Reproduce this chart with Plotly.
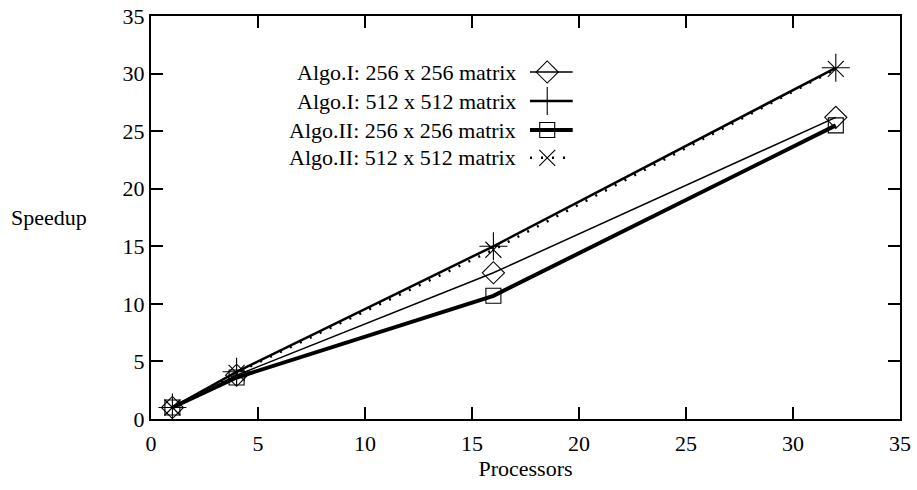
import plotly.graph_objects as go

processors = [1, 4, 16, 32]
algo1_256 = [1.0, 3.8, 12.7, 26.2]
algo1_512 = [1.0, 4.1, 15.0, 30.5]
algo2_256 = [1.0, 3.6, 10.7, 25.5]
algo2_512 = [1.0, 4.0, 14.7, 30.4]
names = ["Algo.I: 256 x 256 matrix", "Algo.I: 512 x 512 matrix",
         "Algo.II: 256 x 256 matrix", "Algo.II: 512 x 512 matrix"]
ticks = [0, 5, 10, 15, 20, 25, 30, 35]

FONT = "Liberation Serif"
FS = 22
series = [algo1_256, algo1_512, algo2_256, algo2_512]
styles = [
    dict(width=1.5, dash="solid", symbol="diamond-open", size=17),
    dict(width=2.5, dash="solid", symbol="cross-thin-open", size=20),
    dict(width=4.0, dash="solid", symbol="square-open", size=15),
    dict(width=2.5, dash="2px,9px", symbol="x-thin-open", size=16),
]

fig = go.Figure()
for vals, st, nm in zip(series, styles, names):
    fig.add_trace(go.Scatter(
        x=processors, y=vals, mode="lines+markers", name=nm,
        line=dict(color="black", width=st["width"], dash=st["dash"]),
        marker=dict(symbol=st["symbol"], size=st["size"], color="black",
                    line=dict(color="black", width=1.1)),
        showlegend=False))

# custom legend (text right-aligned, sample to the right) on an overlay axis
leg_y = [0.861, 0.789, 0.717, 0.648]
for i, (nm, st) in enumerate(zip(names, styles)):
    fig.add_trace(go.Scatter(
        x=[0.506, 0.563], y=[leg_y[i], leg_y[i]], xaxis="x2", yaxis="y2",
        mode="lines", line=dict(color="black", width=st["width"], dash=st["dash"]),
        showlegend=False, hoverinfo="skip"))
    fig.add_trace(go.Scatter(
        x=[0.529], y=[leg_y[i]], xaxis="x2", yaxis="y2", mode="markers",
        marker=dict(symbol=st["symbol"], size=st["size"], color="black",
                    line=dict(color="black", width=1.1)),
        showlegend=False, hoverinfo="skip"))
    fig.add_annotation(x=0.49, y=leg_y[i], xref="x2", yref="y2", text=nm,
                       showarrow=False, xanchor="right", yanchor="middle",
                       font=dict(family=FONT, size=FS, color="black"))

axis_common = dict(range=[0, 35], tickvals=ticks, ticks="inside", ticklen=12,
                   tickwidth=2, tickcolor="black", showline=True, linecolor="black",
                   linewidth=2, mirror="ticks", showgrid=False, zeroline=False,
                   automargin=False,
                   tickfont=dict(family=FONT, size=FS, color="black"))

fig.update_layout(
    width=917, height=490,
    margin=dict(l=151, r=17, t=16, b=71),
    paper_bgcolor="white", plot_bgcolor="white",
    xaxis=dict(**axis_common, ticklabelstandoff=4,
               title=dict(text="Processors", font=dict(family=FONT, size=FS, color="black"),
                          standoff=0)),
    yaxis=dict(**axis_common, ticklabelstandoff=0),
    xaxis2=dict(range=[0, 1], overlaying="x", visible=False, fixedrange=True),
    yaxis2=dict(range=[0, 1], overlaying="y", visible=False, fixedrange=True),
    showlegend=False,
)
fig.add_annotation(x=-0.190, y=0.5, xref="paper", yref="paper", text="Speedup",
                   showarrow=False, xanchor="left", yanchor="middle",
                   font=dict(family=FONT, size=FS, color="black"))

fig.write_html("out.html")
